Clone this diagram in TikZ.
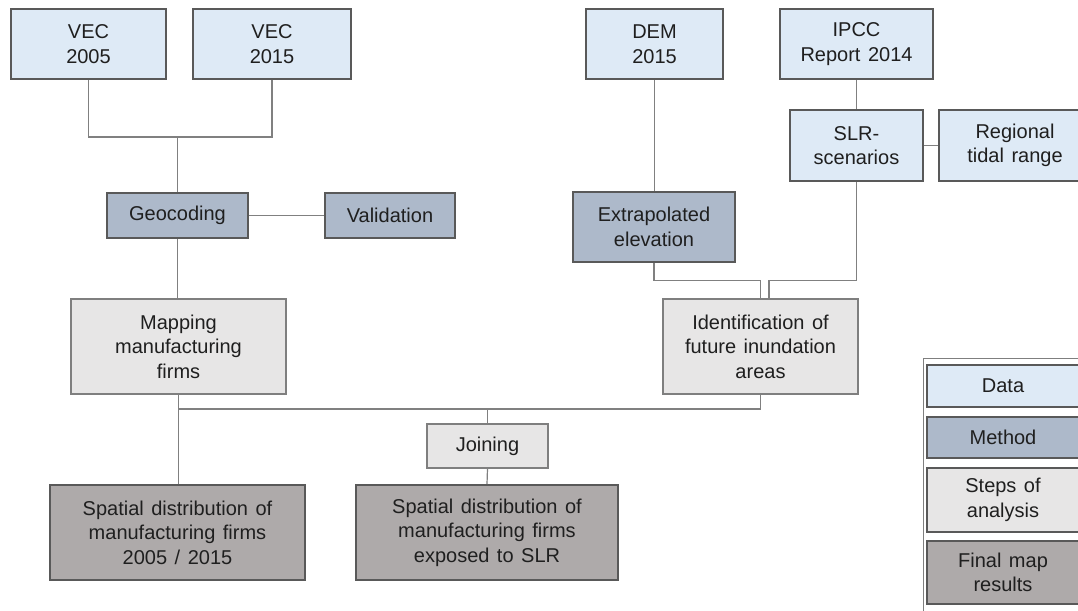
\documentclass[tikz,border=0pt]{standalone}
\usepackage{fontspec}
\setmainfont{Liberation Sans}
\usetikzlibrary{calc}
\definecolor{datafill}{HTML}{DEEAF6}
\definecolor{methodfill}{HTML}{ADB9CA}
\definecolor{stepfill}{HTML}{E7E6E6}
\definecolor{finalfill}{HTML}{AEAAAA}
\definecolor{bdark}{HTML}{595959}
\definecolor{blight}{HTML}{7F7F7F}
\definecolor{conn}{HTML}{808080}
\definecolor{txt}{HTML}{1F1F1F}
\tikzset{
  base/.style={rectangle, align=center, inner sep=0pt, text=txt,
    font={\fontsize{20}{24.5}\selectfont\spaceskip=7.5pt plus 2pt minus 1pt}},
  databox/.style={base, fill=datafill, draw=bdark, line width=2pt},
  methodbox/.style={base, fill=methodfill, draw=bdark, line width=2pt},
  stepbox/.style={base, fill=stepfill, draw=blight, line width=1.2pt},
  finalbox/.style={base, fill=finalfill, draw=bdark, line width=2pt},
  link/.style={draw=conn, line width=1.2pt},
  legframe/.style={draw=blight, line width=1pt}
}
\begin{document}
\begin{tikzpicture}[x=1pt,y=-1pt]
\useasboundingbox (0,0) rectangle (1078,610);
\clip (0,0) rectangle (1078,610);
\fill[white] (0,0) rectangle (1078,610);

% Data boxes
\node[databox, minimum width=155, minimum height=70] (vec05) at (88.5,44) {VEC\\2005};
\node[databox, minimum width=158, minimum height=70] (vec15) at (272,44) {VEC\\2015};
\node[databox, minimum width=137, minimum height=70] (dem) at (654.5,44) {DEM\\2015};
\node[databox, minimum width=153, minimum height=70] (ipcc) at (856.5,44) {IPCC\\Report 2014};
\node[databox, minimum width=133, minimum height=71] (slr) at (856.5,145.5) {SLR-\\scenarios};
\node[databox, minimum width=152, minimum height=71] (tide) at (1015,145.5) {Regional\\tidal range};

% Method boxes
\node[methodbox, minimum width=141, minimum height=45] (geo) at (177.5,215.5) {Geocoding};
\node[methodbox, minimum width=130, minimum height=45] (val) at (390,215.5) {Validation};
\node[methodbox, minimum width=162, minimum height=70] (extra) at (654,227) {Extrapolated\\elevation};

% Steps
\node[stepbox, minimum width=215, minimum height=95] (mapping) at (178.5,346.5) {Mapping\\manufacturing\\firms};
\node[stepbox, minimum width=195, minimum height=95] (ident) at (760.5,346.5) {Identification of\\future inundation\\areas};
\node[stepbox, minimum width=121, minimum height=44] (join) at (487.5,446) {Joining};

% Final results
\node[finalbox, minimum width=255, minimum height=95] (spat1) at (177.5,532.5) {Spatial distribution of\\manufacturing firms\\2005 / 2015};
\node[finalbox, minimum width=262, minimum height=95] (spat2) at (487,532.5) {Spatial distribution of\\manufacturing firms\\exposed to SLR};

% Connectors
\coordinate (vjoin) at (177.5,137);
\coordinate (busY) at (0,409);
\draw[link] (vec05.south) |- (vjoin) -| (vec15.south);
\draw[link] (vjoin) -- (geo.north);
\draw[link] (geo.east) -- (val.west);
\draw[link] (geo.south) -- (geo.south |- mapping.north);
\draw[link] (dem.south) -- (dem.south |- extra.north);
\draw[link] (ipcc.south) -- (slr.north);
\draw[link] (slr.east) -- (tide.west);
\draw[link] (extra.south) |- ($(ident.north)+(0,-18)$) -- (ident.north);
\draw[link] (slr.south) |- ($(ident.north)+(8.5,-18)$) -- ($(ident.north)+(8.5,0)$);
\draw[link] (ident.south) |- (mapping.south |- busY);
\draw[link] (mapping.south) -- (mapping.south |- spat1.north);
\draw[link] (join.north |- busY) -- (join.north);
\draw[link] (join.south) -- (spat2.north);

% Legend
\draw[legframe] (1100,358) -- (923,358) -- (923,620);
\node[databox, minimum width=152, minimum height=42] (lgdata) at (1003,386) {Data};
\node[methodbox, minimum width=152, minimum height=41] (lgmethod) at (1003,437.5) {Method};
\node[stepbox, draw=bdark, line width=2pt, minimum width=152, minimum height=64] (lgstep) at (1003,500) {Steps of\\analysis};
\node[finalbox, minimum width=152, minimum height=63] (lgfinal) at (1003,572.5) {Final map\\results};
\end{tikzpicture}
\end{document}
